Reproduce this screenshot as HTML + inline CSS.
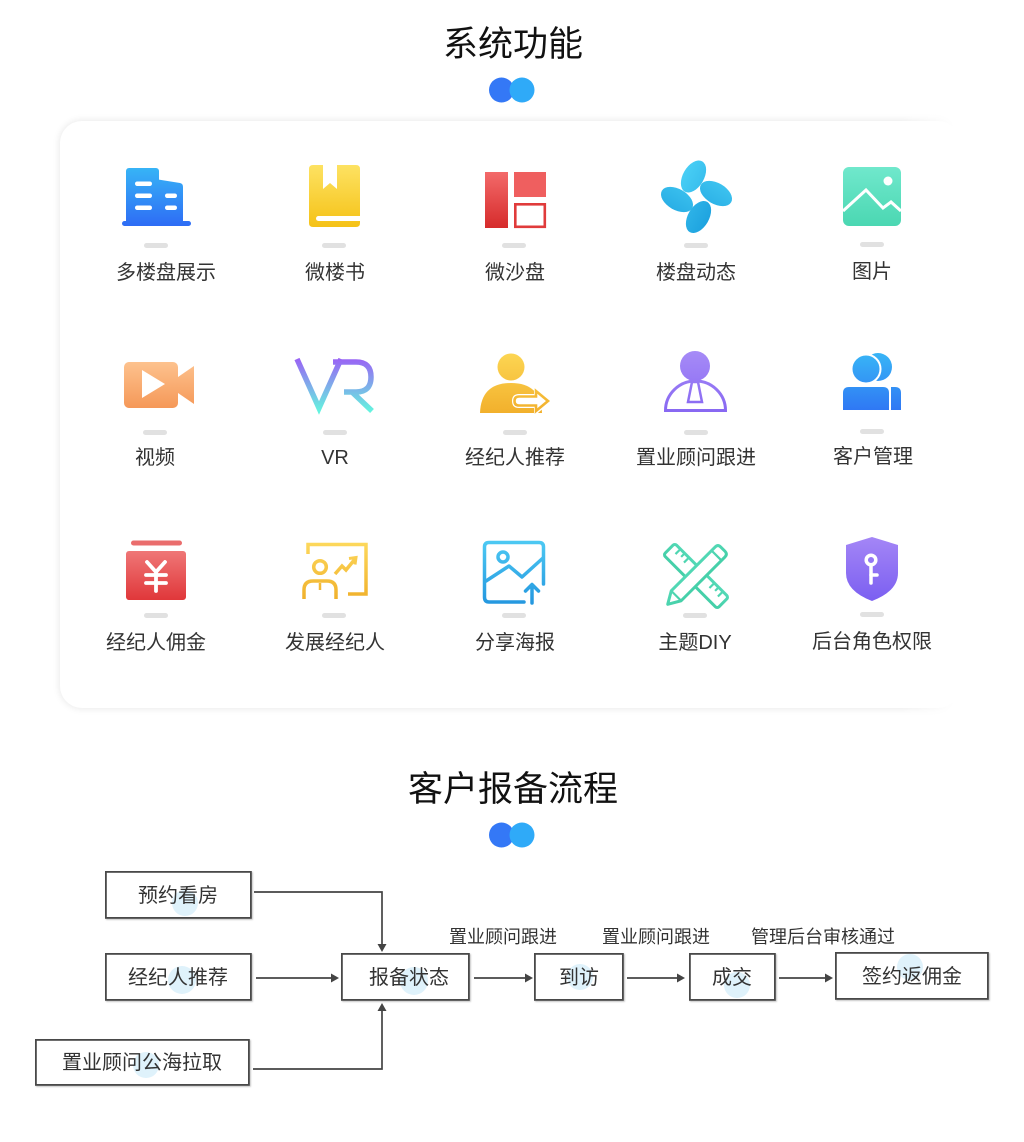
<!DOCTYPE html>
<html><head><meta charset="utf-8"><style>
html,body{margin:0;padding:0;background:#fff;}
body{width:1024px;height:1142px;position:relative;overflow:hidden;font-family:"Liberation Sans","Noto Sans CJK SC",sans-serif;}
.card{position:absolute;left:60px;top:121px;width:900px;height:587px;border-radius:22px;background:#fff;box-shadow:0 0 8px rgba(0,0,0,0.11);}
.fade{position:absolute;left:900px;top:100px;width:124px;height:630px;background:linear-gradient(to right,rgba(255,255,255,0) 0px,#fff 55px);}
svg{position:absolute;left:0;top:0;}
.t{position:absolute;width:240px;text-align:center;font-size:20px;line-height:20px;color:#333;white-space:nowrap;}
.l{position:absolute;width:200px;text-align:center;font-size:18px;line-height:18px;color:#333;white-space:nowrap;}
.h{position:absolute;width:400px;left:313px;text-align:center;font-size:35px;line-height:35px;color:#111;white-space:nowrap;}
</style></head><body>
<div class="card"></div>
<div class="fade"></div>
<svg width="1024" height="1142" viewBox="0 0 1024 1142" xmlns="http://www.w3.org/2000/svg">
<defs>
<linearGradient id="gB" gradientUnits="userSpaceOnUse" x1="0" y1="168" x2="0" y2="226"><stop offset="0" stop-color="#37b4f6"/><stop offset="1" stop-color="#2e6cf5"/></linearGradient>
<linearGradient id="gY" gradientUnits="userSpaceOnUse" x1="0" y1="165" x2="0" y2="227"><stop offset="0" stop-color="#fde262"/><stop offset="1" stop-color="#f5c217"/></linearGradient>
<linearGradient id="gR" gradientUnits="userSpaceOnUse" x1="0" y1="172" x2="0" y2="228"><stop offset="0" stop-color="#f36a6a"/><stop offset="1" stop-color="#d62b2b"/></linearGradient>
<linearGradient id="gF" gradientUnits="userSpaceOnUse" x1="0" y1="163" x2="0" y2="229"><stop offset="0" stop-color="#4ad0f6"/><stop offset="1" stop-color="#1da2df"/></linearGradient>
<linearGradient id="gT" gradientUnits="userSpaceOnUse" x1="0" y1="167" x2="0" y2="226"><stop offset="0" stop-color="#70e8cc"/><stop offset="1" stop-color="#4bd7b2"/></linearGradient>
<linearGradient id="gO" gradientUnits="userSpaceOnUse" x1="0" y1="362" x2="0" y2="408"><stop offset="0" stop-color="#fdc28e"/><stop offset="1" stop-color="#f59858"/></linearGradient>
<linearGradient id="gV" gradientUnits="userSpaceOnUse" x1="0" y1="359" x2="0" y2="411"><stop offset="0" stop-color="#9a64f5"/><stop offset="1" stop-color="#64f3df"/></linearGradient>
<linearGradient id="gA" gradientUnits="userSpaceOnUse" x1="0" y1="354" x2="0" y2="413"><stop offset="0" stop-color="#fcd552"/><stop offset="1" stop-color="#f2b02c"/></linearGradient>
<linearGradient id="gP" gradientUnits="userSpaceOnUse" x1="0" y1="351" x2="0" y2="412"><stop offset="0" stop-color="#a68bf7"/><stop offset="1" stop-color="#8868f2"/></linearGradient>
<linearGradient id="gC" gradientUnits="userSpaceOnUse" x1="0" y1="354" x2="0" y2="410"><stop offset="0" stop-color="#38b4f6"/><stop offset="1" stop-color="#2f78f4"/></linearGradient>
<linearGradient id="gR2" gradientUnits="userSpaceOnUse" x1="0" y1="551" x2="0" y2="600"><stop offset="0" stop-color="#ef7777"/><stop offset="1" stop-color="#e0373a"/></linearGradient>
<linearGradient id="gY3" gradientUnits="userSpaceOnUse" x1="0" y1="543" x2="0" y2="600"><stop offset="0" stop-color="#fdd85c"/><stop offset="1" stop-color="#f0b02a"/></linearGradient>
<linearGradient id="gS" gradientUnits="userSpaceOnUse" x1="0" y1="541" x2="0" y2="604"><stop offset="0" stop-color="#4dc9f3"/><stop offset="1" stop-color="#2497df"/></linearGradient>
<linearGradient id="gM" gradientUnits="userSpaceOnUse" x1="0" y1="545" x2="0" y2="606"><stop offset="0" stop-color="#64e4c6"/><stop offset="1" stop-color="#34c498"/></linearGradient>
<linearGradient id="gSh" gradientUnits="userSpaceOnUse" x1="0" y1="537" x2="0" y2="601"><stop offset="0" stop-color="#a486f6"/><stop offset="1" stop-color="#7b5ff1"/></linearGradient>
<filter id="bs" x="-10%" y="-10%" width="130%" height="140%"><feDropShadow dx="1" dy="1" stdDeviation="0.8" flood-color="#000" flood-opacity="0.25"/></filter>
</defs>

<!-- title dots -->
<circle cx="501.5" cy="90" r="12.5" fill="#3478f6"/>
<circle cx="522" cy="90" r="12.5" fill="#2faaf8"/>
<circle cx="501.5" cy="835" r="12.5" fill="#3478f6"/>
<circle cx="522" cy="835" r="12.5" fill="#2faaf8"/>

<!-- gray bars -->
<g fill="#e1e1e1">
<rect x="144" y="243" width="24" height="5" rx="2.5"/><rect x="322" y="243" width="24" height="5" rx="2.5"/><rect x="502" y="243" width="24" height="5" rx="2.5"/><rect x="684" y="243" width="24" height="5" rx="2.5"/><rect x="860" y="242" width="24" height="5" rx="2.5"/>
<rect x="143" y="430" width="24" height="5" rx="2.5"/><rect x="323" y="430" width="24" height="5" rx="2.5"/><rect x="503" y="430" width="24" height="5" rx="2.5"/><rect x="684" y="430" width="24" height="5" rx="2.5"/><rect x="860" y="429" width="24" height="5" rx="2.5"/>
<rect x="144" y="613" width="24" height="5" rx="2.5"/><rect x="322" y="613" width="24" height="5" rx="2.5"/><rect x="502" y="613" width="24" height="5" rx="2.5"/><rect x="683" y="613" width="24" height="5" rx="2.5"/><rect x="860" y="612" width="24" height="5" rx="2.5"/>
</g>

<!-- 1 building -->
<g fill="url(#gB)">
<rect x="126" y="168" width="33" height="57" rx="3"/>
<path d="M155,179 L180,183 Q183,183.6 183,187 L183,224 L155,224 Z"/>
<rect x="122" y="221" width="69" height="5" rx="2.5"/>
</g>
<g fill="#fff">
<rect x="135" y="181.5" width="17" height="4.5" rx="2.2"/><rect x="135" y="193.5" width="17" height="4.5" rx="2.2"/><rect x="135" y="205.5" width="17" height="4.5" rx="2.2"/>
<rect x="165" y="193.5" width="12" height="4.5" rx="2.2"/><rect x="165" y="205.5" width="12" height="4.5" rx="2.2"/>
</g>

<!-- 2 book -->
<path d="M309,169 Q309,165 313,165 L356,165 Q360,165 360,169 L360,223 Q360,227 356,227 L313,227 Q309,227 309,223 Z" fill="url(#gY)"/>
<path d="M323,165 L337,165 L337,189 L330,183 L323,189 Z" fill="#fff"/>
<path d="M318.5,216 H360 V221 H318.5 A2.5,2.5 0 0 1 318.5,216 Z" fill="#fff"/>

<!-- 3 sand table -->
<rect x="485" y="172" width="23" height="56" fill="url(#gR)"/>
<rect x="514" y="172" width="32" height="25" fill="#ef5f5f"/>
<rect x="515.3" y="204.3" width="29.5" height="22.5" fill="none" stroke="#e03b3b" stroke-width="2.6"/>

<!-- 4 fan -->
<g fill="url(#gF)">
<ellipse cx="693.5" cy="176.5" rx="17.5" ry="10.5" transform="rotate(-60 693.5 176.5)"/>
<ellipse cx="716" cy="193.5" rx="17.5" ry="10.5" transform="rotate(30 716 193.5)"/>
<ellipse cx="698.5" cy="217" rx="17.5" ry="10.5" transform="rotate(-60 698.5 217)"/>
<ellipse cx="677" cy="199.5" rx="17.5" ry="10.5" transform="rotate(30 677 199.5)"/>
</g>

<!-- 5 picture -->
<rect x="843" y="167" width="58" height="59" rx="6" fill="url(#gT)"/>
<circle cx="888" cy="181" r="4.5" fill="#fff"/>
<path d="M843,211 L866,190 L883,208 L891,202 L901,211" fill="none" stroke="#fff" stroke-width="3"/>

<!-- 6 video -->
<rect x="124" y="362" width="54" height="46" rx="5" fill="url(#gO)"/>
<path d="M178,377 L194,366 L194,404 L178,393 Z" fill="url(#gO)"/>
<path d="M142,370 L165,384 L142,398 Z" fill="#fff"/>

<!-- 7 VR -->
<g fill="none" stroke="url(#gV)" stroke-width="5.5">
<path d="M297,359 L319,408 L341,359"/>
<path d="M333,362 H356 Q371,362 371,377 Q371,392 356,392 H344 M352,392 L372,411"/>
</g>

<!-- 8 agent recommend -->
<circle cx="511" cy="367" r="13.5" fill="url(#gA)"/>
<path d="M480,413 Q481,383 511,383 Q541,383 542,413 Z" fill="url(#gA)"/>
<path d="M519,396 L536,396 L536,390 L549,401 L536,412 L536,406 L519,406 Q514,406 514,401 Q514,396 519,396 Z" fill="#fff" stroke="#fff" stroke-width="4"/>
<path d="M519,396.5 L536,396.5 L536,391 L548,401 L536,411 L536,405.5 L519,405.5 Q514.5,405.5 514.5,401 Q514.5,396.5 519,396.5 Z" fill="#fff" stroke="url(#gA)" stroke-width="2.6"/>

<!-- 9 consultant -->
<circle cx="695" cy="366" r="15" fill="url(#gP)"/>
<path d="M665.5,410.5 A30,29.5 0 0 1 725.5,410.5 Z" fill="none" stroke="url(#gP)" stroke-width="3"/>
<path d="M692,382 L698,382 L702,402 L688,402 Z" fill="none" stroke="url(#gP)" stroke-width="2.5"/>

<!-- 10 customers -->
<circle cx="878" cy="367" r="14" fill="url(#gC)"/>
<circle cx="866" cy="369" r="14.5" fill="url(#gC)" stroke="#fff" stroke-width="2"/>
<path d="M891,387 L895,387 Q901,387 901,393 L901,410 L891,410 Z" fill="url(#gC)"/>
<path d="M843,393 Q843,387 849,387 L883,387 Q889,387 889,393 L889,410 L843,410 Z" fill="url(#gC)"/>

<!-- 11 commission -->
<rect x="131" y="540.5" width="51" height="5" rx="2.5" fill="#ea6d6d"/>
<rect x="126" y="551" width="60" height="49" rx="3" fill="url(#gR2)"/>
<g stroke="#fff" stroke-width="3.8" stroke-linecap="round" fill="none">
<path d="M147,562 L156,572 L165,562"/><path d="M146,575 H166"/><path d="M146,583 H166"/><path d="M156,572 V591"/>
</g>

<!-- 12 develop agent -->
<g fill="none" stroke="url(#gY3)" stroke-width="3.5">
<path d="M308,554 V544.5 H366 V594 H348"/>
<circle cx="320" cy="567" r="6.3"/>
<path d="M304,599 V590 Q304,581 313,581 H327 Q336,581 336,590 V599"/>
<path d="M320,583 V590" stroke-width="2.5"/>
<path d="M335,574 L342,566 L346,570 L355,559"/>
<path d="M349,558.5 L356,557.5 L355,564.5" stroke-width="3"/>
</g>

<!-- 13 share poster -->
<g fill="none" stroke="url(#gS)" stroke-width="3.5" stroke-linecap="round" stroke-linejoin="round">
<path d="M524,602 H489 Q484.5,602 484.5,597 V547 Q484.5,542.5 489,542.5 H539 Q543.5,542.5 543.5,547 V584"/>
<circle cx="503" cy="557" r="5"/>
<path d="M486,581 L509,566 L522,577 L543,558"/>
<path d="M532,603 V585 M525.5,591 L532,584.5 L538.5,591"/>
</g>

<!-- 14 theme DIY -->
<g fill="#fff" stroke="url(#gM)" stroke-width="3" stroke-linejoin="round">
<g transform="rotate(45 696 576)">
<rect x="658" y="568" width="76" height="16" rx="2.5"/>
<path d="M666,568 V575 M672,568 V573 M678,568 V575 M714,568 V575 M720,568 V573 M726,568 V575" stroke-width="2.2"/>
</g>
<g transform="rotate(-45 696 576)">
<path d="M668,569 H730 Q734,569 734,573 V579 Q734,583 730,583 H668 L656,576 Z"/>
<path d="M668,569 V583 M725,569 V583" stroke-width="2.2"/>
</g>
</g>

<!-- 15 shield -->
<path d="M872,537 L898,545 V573 Q898,591 872,601 Q846,591 846,573 V545 Z" fill="url(#gSh)"/>
<g stroke="#fff" stroke-width="3.5" fill="none" stroke-linecap="round">
<circle cx="871" cy="560" r="4.8"/>
<path d="M871,566 V583"/><path d="M871,575 H877"/>
</g>

<!-- flow boxes -->
<g fill="#fff" stroke="#4a4a4a" stroke-width="1.8" filter="url(#bs)">
<rect x="105.9" y="871.9" width="145" height="46"/>
<rect x="105.9" y="953.9" width="145" height="46"/>
<rect x="35.9" y="1039.9" width="213" height="45"/>
<rect x="341.9" y="953.9" width="127" height="46"/>
<rect x="534.9" y="953.9" width="88" height="46"/>
<rect x="689.9" y="953.9" width="85" height="46"/>
<rect x="835.9" y="952.9" width="152" height="46"/>
</g>

<!-- flow: faint circles -->
<g fill="#dff2fb">
<circle cx="185" cy="903" r="13"/>
<circle cx="182" cy="980" r="14"/>
<circle cx="146" cy="1065" r="13"/>
<circle cx="414" cy="981" r="14"/>
<circle cx="580" cy="977" r="13"/>
<circle cx="737" cy="985" r="13"/>
<circle cx="910" cy="967" r="13"/>
</g>

<!-- connectors -->
<g fill="none" stroke="#444" stroke-width="1.7">
<path d="M254,892 H382 V945"/>
<path d="M256,978 H332"/>
<path d="M253,1069 H382 V1010"/>
<path d="M474,978 H526"/>
<path d="M627,978 H678"/>
<path d="M779,978 H826"/>
</g>
<g fill="#444">
<path d="M377.5,944 L386.5,944 L382,952 Z"/>
<path d="M331,973.5 L331,982.5 L339,978 Z"/>
<path d="M377.5,1011 L386.5,1011 L382,1003 Z"/>
<path d="M525,973.5 L525,982.5 L533,978 Z"/>
<path d="M677,973.5 L677,982.5 L685,978 Z"/>
<path d="M825,973.5 L825,982.5 L833,978 Z"/>
</g>
</svg>

<div class="h" style="top:27px;">系统功能</div>
<div class="h" style="top:772px;">客户报备流程</div>

<!-- row 1 labels -->
<div class="t" style="left:46px;top:263px;">多楼盘展示</div>
<div class="t" style="left:215px;top:263px;">微楼书</div>
<div class="t" style="left:395px;top:263px;">微沙盘</div>
<div class="t" style="left:576px;top:263px;">楼盘动态</div>
<div class="t" style="left:752px;top:262px;">图片</div>
<!-- row 2 -->
<div class="t" style="left:35px;top:448px;">视频</div>
<div class="t" style="left:215px;top:448px;">VR</div>
<div class="t" style="left:395px;top:448px;">经纪人推荐</div>
<div class="t" style="left:576px;top:448px;">置业顾问跟进</div>
<div class="t" style="left:753px;top:447px;">客户管理</div>
<!-- row 3 -->
<div class="t" style="left:36px;top:633px;">经纪人佣金</div>
<div class="t" style="left:215px;top:633px;">发展经纪人</div>
<div class="t" style="left:395px;top:633px;">分享海报</div>
<div class="t" style="left:575px;top:633px;">主题DIY</div>
<div class="t" style="left:752px;top:632px;">后台角色权限</div>

<!-- flow box texts -->
<div class="t" style="left:58px;top:886px;">预约看房</div>
<div class="t" style="left:58px;top:968px;">经纪人推荐</div>
<div class="t" style="left:22px;top:1053px;">置业顾问公海拉取</div>
<div class="t" style="left:289px;top:968px;">报备状态</div>
<div class="t" style="left:459px;top:968px;">到访</div>
<div class="t" style="left:612px;top:968px;">成交</div>
<div class="t" style="left:792px;top:967px;">签约返佣金</div>

<!-- flow labels -->
<div class="l" style="left:403px;top:928px;">置业顾问跟进</div>
<div class="l" style="left:556px;top:928px;">置业顾问跟进</div>
<div class="l" style="left:723px;top:928px;">管理后台审核通过</div>
</body></html>
